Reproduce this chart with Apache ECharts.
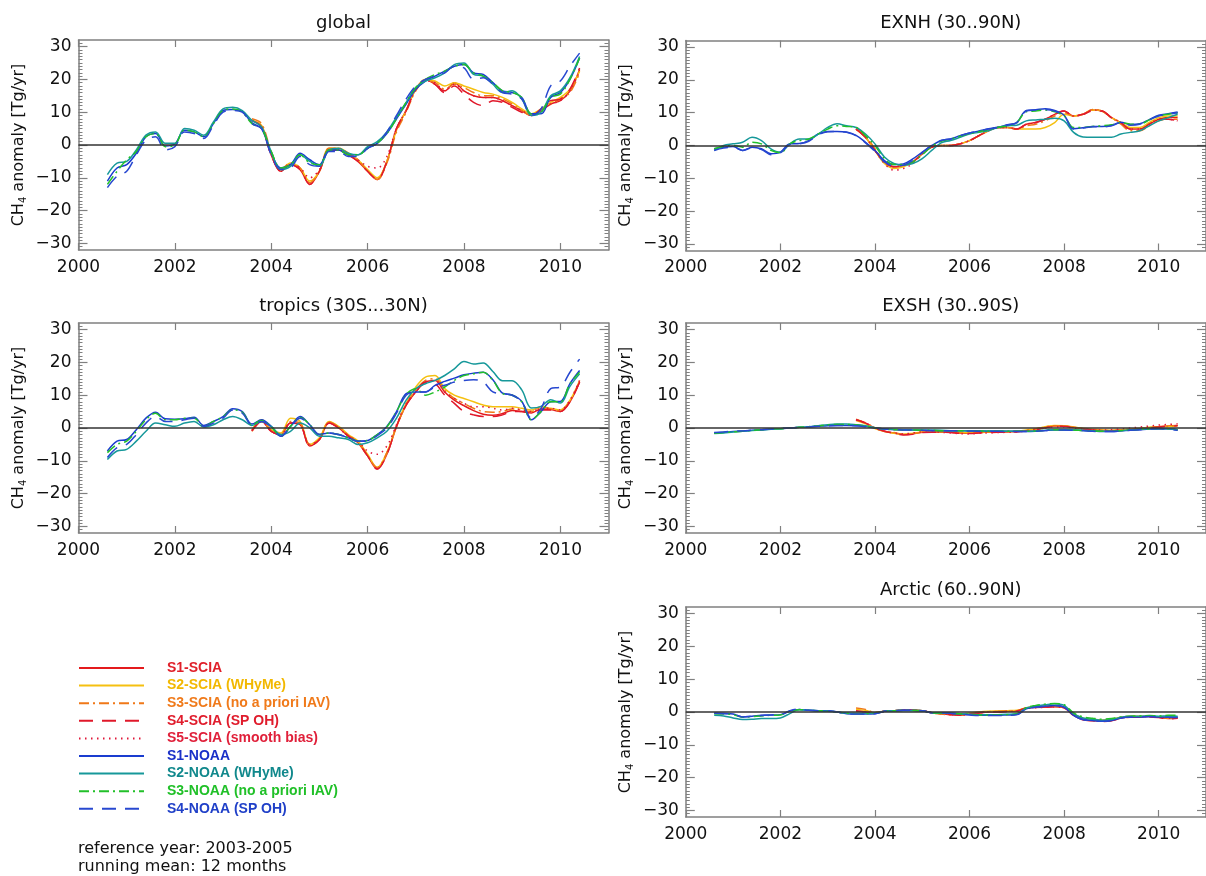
<!DOCTYPE html>
<html><head><meta charset="utf-8">
<script src="https://cdn.jsdelivr.net/npm/echarts@6/dist/echarts.min.js"></script>
<style>html,body{margin:0;padding:0;background:#fff}#c{width:1206px;height:876px}</style>
</head><body><div id="c"></div><script>
// ---------- time axes (decimal years) ----------
const tN = [2000.6,2000.8,2001.0,2001.2,2001.4,2001.6,2001.8,2002.0,2002.2,2002.4,2002.6,2002.8,2003.0,2003.2,2003.4,2003.6,2003.8,2004.0,2004.2,2004.4,2004.6,2004.8,2005.0,2005.2,2005.4,2005.6,2005.8,2006.0,2006.2,2006.4,2006.6,2006.8,2007.0,2007.2,2007.4,2007.6,2007.8,2008.0,2008.2,2008.4,2008.6,2008.8,2009.0,2009.2,2009.4,2009.6,2009.8,2010.0,2010.2,2010.4];
const tS = [2003.6,2003.8,2004.0,2004.2,2004.4,2004.6,2004.8,2005.0,2005.2,2005.4,2005.6,2005.8,2006.0,2006.2,2006.4,2006.6,2006.8,2007.0,2007.2,2007.4,2007.6,2007.8,2008.0,2008.2,2008.4,2008.6,2008.8,2009.0,2009.2,2009.4,2009.6,2009.8,2010.0,2010.2,2010.4];
const xTicks = [2000,2002,2004,2006,2008,2010];
const yTicks = [-30,-20,-10,0,10,20,30];
const panelTitles = ['global','EXNH (30..90N)','tropics (30S...30N)','EXSH (30..90S)','Arctic (60..90N)'];
const seriesNames = ['S1-SCIA','S2-SCIA (WHyMe)','S3-SCIA (no a priori IAV)','S4-SCIA (SP OH)','S5-SCIA (smooth bias)','S1-NOAA','S2-NOAA (WHyMe)','S3-NOAA (no a priori IAV)','S4-NOAA (SP OH)'];
const footer1 = 'reference year: 2003-2005';
const footer2 = 'running mean: 12 months';

// ---------- global ----------
const gS1 = [7.5,5.5,-3,-8,-6,-7.5,-12,-8,-1.5,-1.5,-3,-5,-8,-10.5,-5,5,10.5,17,20,18.5,16.5,19,16.5,15,14.5,14.5,13.5,12,10.5,9,10.5,12.5,13.5,16.5,23];
const gS2 = [7.5,6,-2.5,-7.5,-5.5,-7,-11,-8,-1,-1,-2.5,-4.5,-7.5,-10,-5,4.5,10.5,17,20,19.5,18,19,18,17,16,15.5,14.5,13,11,9.5,11,13,14.5,17,22.5];
const gS3 = [8,6.5,-2,-7.5,-5.5,-7,-11.5,-8,-1,-1,-2.5,-4.5,-8,-10.5,-5.5,4,10,16.5,19.5,19,17,18.5,17.5,16,15,15,14,12.5,10.5,9,10.5,12.5,14,16,22];
const gS4 = [7.5,5.5,-3,-8,-6,-7.5,-12,-8,-1.5,-1.5,-3,-5,-8,-10.5,-5,5,10.5,17,19.5,18.5,16,18,15.5,13,12,13.5,13,11.5,10,9,11,13.5,14,17,23.5];
const gS5 = [7.5,5.5,-3,-7.5,-6,-7,-10,-7.5,-1.5,-1.5,-3,-4.5,-6.5,-7,-3.5,5,10.5,17,19.5,19,16.5,18.5,16.5,15,14.5,14.5,13.5,12,10.5,9,10.5,12.5,13.5,16.5,22.5];
const gN1 = [-11,-7,-6,-2.5,2.5,3.5,-0.3,0.3,4.5,4,2.5,6.5,10.5,10.8,10.2,6.8,5,-2.5,-7,-6,-2.5,-4.5,-6,-1.5,-1.5,-3,-3,-1,0.5,3.5,8,12.5,17,19.5,21,22.5,24,24.5,22,21.5,19,16.5,16,14.5,9.5,9.5,14.5,16,20,26.5];
const gN2 = [-9,-5.5,-5,-1.5,3,4,0.5,0.5,5,4.5,3,7,11,11.5,10.5,7.5,5.5,-2,-7.5,-6.5,-3,-5,-6.5,-1.5,-1,-2.5,-3,-0.5,1,4,8.5,13,17.5,19.5,20.5,22,24.5,25,21.5,21,18.5,16,16.5,14,9,10,15,16.5,20.5,27];
const gN3 = [-12,-8,-4.5,-2,2.5,3.5,-0.5,0,4.5,4,2.5,6.5,10.5,11,10,6.5,5,-2,-7,-6,-3,-5.5,-6,-1.5,-1.5,-3,-3,-1,0.5,3.5,8,13,17.5,20,21.5,22.5,24,24.5,22,21,19,16.5,16,14.5,9.5,10,14.5,15.5,20,26.5];
const gN4 = [-13,-9.5,-8,-3,1.5,2.5,-1.5,-0.5,4,3.5,2,6,10,10.5,10,6.5,5,-3,-7.5,-7,-3.5,-6,-6.5,-2,-2,-3.5,-3.5,-1,0.5,4,9,14,18,20,21,22,24,23.5,20,20.5,18.5,16,15.5,14,9,11,18,19.5,24,28];

// ---------- tropics ----------
const trS1 = [-0.8,2,-1,-2,1.5,1,-5.5,-3.5,1.5,0,-2.5,-4.5,-8.5,-12.5,-8,0.5,7,11,14,14.5,11,8.5,6.8,5.3,4.2,3.9,4.4,5.3,5,4.6,5.8,5.6,5,8,14];
const trS2 = [-0.5,2.5,-0.5,-1.5,3,2,-5,-3,2,0.5,-2,-4,-8,-12,-7.5,0.5,7.5,12.5,15.5,16,12,10,9,8,7,6.5,6.5,6.5,6,5.5,6.5,6,5.5,8.5,14.5];
const trS3 = [-1,2,-0.8,-2,2,1.5,-5,-3.5,1.8,0.3,-2.2,-4.3,-8.5,-12,-7.5,0.5,7,11.5,14.5,15,11.5,9,7.5,6,5,4.8,5,5.8,5.5,5,6.2,5.8,5.2,8.2,14.2];
const trS4 = [-0.8,2,-1,-2,1.5,1,-5.5,-3.5,1.5,0,-2.5,-4.5,-8.5,-12.5,-8,0.5,7,11,14,13.5,10,7.5,5,4,3.5,3.5,4,5,5,4.5,5.5,5.5,5,8,14];
const trS5 = [-0.8,2,-1,-2,1.5,1,-5,-3.5,1.5,0,-2.5,-4,-7,-8,-5.5,1,7.5,11,14,14.5,11,9,7.5,6.5,6.5,6,5.5,6,5.5,5,6,6,5.5,8.5,14.5];
const trN1 = [-7,-4,-3.5,-0.5,3,4.8,2.8,2.7,2.8,3.3,0.8,2,3.5,5.9,5,1.2,2.5,0.5,-2.5,0.5,3.5,1,-2,-1.5,-2,-3,-4,-3.8,-2,0.5,5,10.5,11,11,13,14.2,15.2,16.2,16.7,17,14.7,10.6,10.1,8.1,2.5,5,8,8.1,13.5,17.5];
const trN2 = [-9.6,-7,-6.5,-4,-1,1.5,1,0.5,1.5,2,0.3,1,2.5,3.5,2.5,0.8,2,0.5,-2,-1,1.5,0,-2.5,-2.5,-3,-3.5,-5,-4.5,-3,-1,3,8.5,12,13.5,14.5,16,18,20.3,19.5,19.8,17.2,14.4,14.4,11.6,6.1,6.6,8.6,7.6,12.7,16.5];
const trN3 = [-7.5,-5,-4,-1,2.5,4.5,2.5,2.5,3,3,0.5,2,3.5,5.5,4.8,1,2.3,0.3,-2.5,0.5,3.2,1,-2,-1.5,-2,-3,-4,-3.8,-2,0.3,5,10.2,12,10,11,12.5,14.5,16,16.5,17,14.5,10.5,10,8,2.5,5,8,8,13.5,17];
const trN4 = [-9,-6,-5,-2,1.5,3.5,2,2,2.5,3,0.5,1.5,3,5.5,4.5,1,2,0.3,-2.5,0.3,3,0.8,-2,-1.5,-2,-3,-4,-4,-2.3,0,4.5,10,11,11,12.5,13,14,14.5,14.7,14,11,10.5,10,8,3,6,12,12.5,17,21];

// ---------- EXNH ----------
const nhS1 = [5,2.5,-1.5,-5,-6.5,-6,-5,-2.5,-0.5,0,0,0.5,1.5,3,4.5,5.5,5.5,5,6.5,7,8,9.5,10.5,9,9.5,10.8,10.5,8.5,7,5,5,6.5,8,8.5,8.5];
const nhS2 = [5,2.5,-1.5,-5.5,-7,-6.5,-5,-2.5,-0.5,0,0,0.5,1.5,3,4.5,5.5,5.5,5,5,5,5.5,7,9.5,9,9.5,10.8,10.5,8.5,7,5.5,5.5,7,8.5,9,9];
const nhS3 = [5.5,3,-1,-5,-6.5,-6,-5,-2.5,-0.5,0,0,0.5,1.5,3,4.5,5.5,5.5,5,6,6.5,7.5,9,10,9,9.5,11,10.5,8.5,6.5,4.5,4.5,6,7.5,8,8];
const nhS4 = [5,2.5,-1.5,-5,-6.5,-6,-5,-2.5,-0.5,0,0,0.5,1.5,3,4.5,5.5,5.5,5,6.5,7,8,9.5,10.5,9,9.5,10.5,10.5,8.5,7,5,5,6.5,8,8,7.5];
const nhS5 = [5,2.5,-1.5,-5.5,-7.5,-7,-5.5,-2.5,-0.5,0,0,0.5,1.5,3,4.5,5.5,5.5,5,6.5,7,8,9.5,10.5,9,9.5,10.8,10.5,8.5,7,5,5,6.5,8,8,7.5];
const nhN1 = [-1,-0.5,-0.3,-1.5,-0.5,-1,-2.5,-2,0.5,0.6,1.5,3.5,4.3,4.3,4.1,3.1,1,-1.5,-4.6,-5.8,-5.6,-4.1,-2,0,1.5,2,3,3.8,4.4,5.1,5.6,6.3,7,10.7,10.9,11.2,10.7,9.2,5.1,5.4,5.8,5.8,6.1,7.1,6.4,6.6,7.9,9.2,9.7,10.2];
const nhN2 = [-1.5,0,0.5,1,2.5,1.5,-1,-2,0.5,2,2,3.5,5.5,6.6,6,5.5,3.5,0.5,-3.5,-5.5,-6,-5.5,-4,-1.5,0.8,1.5,2.5,3.5,4,4.5,5.5,6,6.2,7.5,7.8,8,8.3,7.5,4,2.6,2.5,2.5,2.5,3.5,4,4.5,6,7.5,8.5,9.5];
const nhN3 = [-1,-0.3,0,-0.5,1,0.5,-1.5,-2.2,0.5,1.5,2,3.5,5,6,5.8,5.5,3,0,-4,-5.8,-5.8,-5,-2.8,-0.3,1.3,2,2.8,3.6,4.2,4.8,5.5,6,7,10.3,10.5,10.8,10.3,9,5.5,5.5,5.8,6,6.3,7,6.5,6.5,7.8,9,9.5,10];
const nhN4 = [-1.5,-0.8,-0.5,-1.5,-0.8,-1.2,-2.8,-2.2,0.3,0.5,1.3,3.3,4.2,4.3,4,3,0.8,-1.8,-5,-6.2,-6,-4.5,-2.2,0,1.5,2,3,3.8,4.4,5,5.5,6.2,7,10.5,10.8,11,10.5,9,5,5.3,5.7,5.7,6,7,6.2,6.5,7.8,9,9.5,10];

// ---------- EXSH ----------
const shS1 = [2.5,1.5,0,-1,-1.5,-2,-1.8,-1.3,-1.2,-1.2,-1.3,-1.5,-1.6,-1.4,-1.3,-1.2,-1.2,-1.1,-0.8,-0.4,0.2,0.6,0.6,0.2,-0.2,-0.5,-0.7,-0.8,-0.6,-0.4,-0.2,0.1,0.4,0.6,0.8];
const shS2 = [2.3,1.3,-0.2,-1.1,-1.6,-1.9,-1.6,-1.2,-1.1,-1.1,-1.2,-1.4,-1.5,-1.3,-1.2,-1.1,-1.1,-1,-0.6,-0.2,0.4,0.8,0.7,0.3,-0.1,-0.4,-0.6,-0.7,-0.5,-0.3,-0.1,0.2,0.4,0.5,0.7];
const shS3 = [2.7,1.6,0.1,-0.9,-1.4,-1.9,-1.7,-1.3,-1.2,-1.2,-1.3,-1.5,-1.6,-1.4,-1.3,-1.2,-1.1,-1,-0.7,-0.3,0.3,0.7,0.6,0.2,-0.2,-0.5,-0.7,-0.8,-0.6,-0.4,-0.2,0.1,0.3,0.5,0.8];
const shS4 = [2.5,1.5,0,-1,-1.6,-2.1,-1.9,-1.4,-1.3,-1.3,-1.4,-1.6,-1.7,-1.5,-1.4,-1.3,-1.3,-1.2,-0.9,-0.5,0.1,0.5,0.5,0.1,-0.3,-0.6,-0.8,-0.9,-0.7,-0.5,-0.3,0,0.3,0.5,0.7];
const shS5 = [2.5,1.5,0,-1,-1.5,-1.8,-1.5,-1.2,-1.2,-1.3,-1.5,-1.7,-1.8,-1.6,-1.5,-1.4,-1.3,-1.2,-0.9,-0.5,0,0.4,0.4,0,-0.3,-0.5,-0.6,-0.5,-0.3,0,0.3,0.6,0.9,1.1,1.3];
const shN1 = [-1.5,-1.3,-1.1,-0.9,-0.7,-0.5,-0.3,-0.2,0,0.2,0.3,0.5,0.7,0.8,0.8,0.7,0.5,0,-0.3,-0.5,-0.5,-0.6,-0.7,-0.7,-0.8,-0.8,-0.8,-0.9,-0.9,-1,-1,-1,-1,-1.1,-1,-0.8,-0.6,-0.6,-0.6,-0.8,-0.9,-1.1,-1.1,-0.9,-0.7,-0.5,-0.3,-0.2,-0.3,-0.6];
const shN2 = [-1.7,-1.5,-1.2,-1,-0.8,-0.6,-0.4,-0.2,0,0.2,0.4,0.7,1,1.2,1.2,1,0.7,0.1,-0.3,-0.4,-0.5,-0.6,-0.6,-0.7,-0.7,-0.8,-0.8,-0.8,-0.9,-0.9,-0.9,-1,-1,-1,-0.9,-0.7,-0.5,-0.5,-0.6,-0.7,-0.8,-1,-1,-0.8,-0.6,-0.4,-0.3,-0.2,-0.2,-0.5];
const shN3 = [-1.6,-1.4,-1.2,-1,-0.7,-0.5,-0.3,-0.2,0,0.2,0.4,0.6,0.9,1.1,1.1,0.9,0.6,0.1,-0.3,-0.5,-0.5,-0.6,-0.7,-0.7,-0.8,-0.8,-0.8,-0.8,-0.9,-0.9,-1,-1,-1,-1,-0.9,-0.7,-0.5,-0.5,-0.6,-0.8,-0.9,-1,-1,-0.8,-0.6,-0.4,-0.3,-0.2,-0.2,-0.5];
const shN4 = [-1.4,-1.2,-1,-0.9,-0.7,-0.5,-0.3,-0.1,0,0.2,0.3,0.5,0.7,0.8,0.8,0.7,0.4,0,-0.3,-0.5,-0.6,-0.6,-0.7,-0.8,-0.8,-0.8,-0.9,-0.9,-1,-1,-1,-1.1,-1.1,-1.1,-1,-0.8,-0.6,-0.6,-0.7,-0.8,-1,-1.1,-1.1,-0.9,-0.7,-0.5,-0.3,-0.2,-0.4,-0.7];

// ---------- Arctic ----------
const arS1 = [0.3,0,-0.3,0.2,0.4,0.5,0.5,0.4,-0.2,-0.5,-0.8,-1,-0.6,-0.3,0,0,0.2,0.3,1.2,1.4,1.5,1.6,1.3,-1,-2.3,-2.6,-2.8,-2.6,-1.8,-1.5,-1.5,-1.4,-1.6,-2,-1.8];
const arS2 = [0.8,0.5,-0.2,0.2,0.4,0.5,0.5,0.4,-0.2,-0.4,-0.6,-0.7,-0.3,0,0.2,0.3,0.4,0.5,1.3,1.6,1.8,1.9,1.5,-0.6,-1.9,-2.2,-2.4,-2.2,-1.6,-1.3,-1.3,-1.3,-1.5,-1.8,-1.6];
const arS3 = [1.2,0.8,-0.1,0.2,0.4,0.5,0.5,0.4,-0.3,-0.6,-0.9,-1,-0.5,-0.1,0.1,0.2,0.3,0.4,1.2,1.5,1.6,1.7,1.4,-0.8,-2.1,-2.4,-2.6,-2.4,-1.7,-1.4,-1.4,-1.3,-1.5,-1.9,-1.7];
const arS4 = [0.3,0,-0.3,0.2,0.4,0.5,0.5,0.4,-0.2,-0.5,-0.8,-1,-0.6,-0.3,0,0,0.2,0.3,1.2,1.4,1.5,1.6,1.3,-1.1,-2.4,-2.7,-2.9,-2.7,-1.9,-1.6,-1.6,-1.5,-1.7,-2.1,-1.9];
const arS5 = [0.3,0,-0.3,0.2,0.4,0.5,0.5,0.4,-0.2,-0.5,-0.8,-1,-0.6,-0.3,0,0,0.2,0.3,1.1,1.3,1.4,1.5,1.2,-1,-2.2,-2.5,-2.7,-2.5,-1.7,-1.4,-1.4,-1.3,-1.5,-1.9,-1.7];
const arN1 = [-0.3,-0.4,-0.6,-1.5,-1.3,-1,-0.9,-0.8,0.3,0.8,0.5,0.4,0.4,0,-0.5,-0.6,-0.6,-0.5,0.2,0.4,0.5,0.5,0.4,-0.2,-0.3,-0.4,-0.5,-0.8,-1,-1,-1,-0.9,-0.8,1,1.5,1.8,2,1.5,-1,-2.3,-2.6,-2.8,-2.6,-1.8,-1.5,-1.5,-1.4,-1.5,-1.5,-1.6];
const arN2 = [-1,-1.2,-1.8,-2.3,-2.2,-2,-2,-1.8,-0.5,0.8,0.5,0.3,0.2,0,-0.3,-0.4,-0.4,-0.3,0.2,0.4,0.4,0.4,0.3,-0.2,-0.3,-0.4,-0.5,-0.7,-0.8,-0.8,-0.8,-0.7,-0.5,1.2,1.8,2.2,2.5,2,-0.5,-1.8,-2.2,-2.5,-2.3,-1.6,-1.3,-1.3,-1.2,-1.3,-1.2,-1.3];
const arN3 = [-0.5,-0.6,-0.8,-1.6,-1.4,-1.2,-1,-0.9,0.2,0.7,0.5,0.4,0.3,0,-0.4,-0.5,-0.5,-0.4,0.2,0.4,0.5,0.5,0.4,-0.2,-0.3,-0.4,-0.5,-0.7,-0.9,-0.9,-0.9,-0.8,-0.6,1.3,2,2.4,2.6,2.2,-0.3,-1.5,-1.9,-2.2,-2,-1.5,-1.3,-1.2,-1.1,-1.2,-1,-1];
const arN4 = [-0.4,-0.5,-0.7,-1.5,-1.3,-1.1,-0.9,-0.8,0.4,0.9,0.5,0.4,0.4,0,-0.5,-0.6,-0.6,-0.5,0.2,0.4,0.5,0.5,0.4,-0.2,-0.3,-0.4,-0.6,-0.9,-1.1,-1.1,-1.1,-1,-0.8,1,1.5,1.8,2,1.5,-1,-2.3,-2.6,-2.8,-2.6,-1.8,-1.5,-1.5,-1.4,-1.5,-1.6,-1.7];

// ---------- styling / layout ----------
const FONT = 'DejaVu Sans';
const AX = '#808080';
const lineStyles = [
  {color:'#e41a1c', type:'solid'},
  {color:'#f5c010', type:'solid'},
  {color:'#f07818', type:[10,4,2,4]},
  {color:'#e0182a', type:[14,9]},
  {color:'#e0183a', type:[1.5,4.5]},
  {color:'#1a3ccf', type:'solid'},
  {color:'#16989a', type:'solid'},
  {color:'#22c02a', type:[10,4,2,4]},
  {color:'#2848d0', type:[14,9]}
];
const legendTextColors = ['#e0202a','#f2b800','#f07a1a','#e01c2c','#e0203a','#1a30c8','#10888c','#20c028','#2040c8'];

const panels = [
  {scia:[gS1,gS2,gS3,gS4,gS5], noaa:[gN1,gN2,gN3,gN4], left:78.5, top:40},
  {scia:[nhS1,nhS2,nhS3,nhS4,nhS5], noaa:[nhN1,nhN2,nhN3,nhN4], left:685.8, top:40.5},
  {scia:[trS1,trS2,trS3,trS4,trS5], noaa:[trN1,trN2,trN3,trN4], left:78.5, top:323},
  {scia:[shS1,shS2,shS3,shS4,shS5], noaa:[shN1,shN2,shN3,shN4], left:685.8, top:323},
  {scia:[arS1,arS2,arS3,arS4,arS5], noaa:[arN1,arN2,arN3,arN4], left:685.8, top:607}
];
const GW = 530, GH = 210;
const yMinor = [];
for (let v = -31; v <= 31; v++) yMinor.push(v);
const yFmt = v => (v < 0 ? '\u2212' + Math.abs(v) : String(v));
const xFmt = v => String(Math.round(v));

const grid = [], xAxis = [], yAxis = [], series = [], title = [];
panels.forEach((p, gi) => {
  grid.push({left:p.left, top:p.top, width:GW, height:GH, containLabel:false, show:false});
  title.push({text:panelTitles[gi], left:p.left + GW/2, top:p.top - 26, textAlign:'center', padding:0,
    textStyle:{fontFamily:FONT, fontSize:18, fontWeight:'normal', color:'#111'}});
  const xl = {show:true, onZero:false, lineStyle:{color:AX, width:1.5}};
  const xt = {show:true, inside:true, length:7, customValues:xTicks, lineStyle:{color:AX, width:1.2}};
  xAxis.push({gridIndex:gi, type:'value', min:2000, max:2011, position:'bottom', axisLine:xl, axisTick:xt,
    axisLabel:{show:true, customValues:xTicks, formatter:xFmt, margin:9, color:'#111', fontFamily:FONT, fontSize:17}, splitLine:{show:false}});
  xAxis.push({gridIndex:gi, type:'value', min:2000, max:2011, position:'top', axisLine:xl, axisTick:xt,
    axisLabel:{show:false}, splitLine:{show:false}});
  const yl = {show:true, onZero:false, lineStyle:{color:AX, width:1.5}};
  const yMaj = {show:true, inside:true, length:9, customValues:yTicks, lineStyle:{color:AX, width:1.2}};
  const yMin = {show:true, inside:true, length:4, customValues:yMinor, lineStyle:{color:AX, width:1}};
  yAxis.push({gridIndex:gi, type:'value', min:-32, max:32, position:'left', axisLine:yl, axisTick:yMaj,
    axisLabel:{show:true, customValues:yTicks, formatter:yFmt, margin:7, color:'#111', fontFamily:FONT, fontSize:17},
    splitLine:{show:false},
    name:'{a|CH}{s|4}{a| anomaly [Tg/yr]}', nameLocation:'middle', nameGap:50, nameRotate:90,
    nameTextStyle:{fontFamily:FONT, fontSize:16, color:'#111',
      rich:{a:{fontFamily:FONT, fontSize:16, color:'#111', lineHeight:20},
            s:{fontFamily:FONT, fontSize:10, color:'#111', verticalAlign:'bottom', lineHeight:12}}}});
  yAxis.push({gridIndex:gi, type:'value', min:-32, max:32, position:'left', axisLine:{show:false}, axisTick:yMin,
    axisLabel:{show:false}, splitLine:{show:false}});
  yAxis.push({gridIndex:gi, type:'value', min:-32, max:32, position:'right', axisLine:yl, axisTick:yMaj,
    axisLabel:{show:false}, splitLine:{show:false}});
  yAxis.push({gridIndex:gi, type:'value', min:-32, max:32, position:'right', axisLine:{show:false}, axisTick:yMin,
    axisLabel:{show:false}, splitLine:{show:false}});

  const all = p.scia.map((v) => ({t:tS, v})).concat(p.noaa.map((v) => ({t:tN, v})));
  all.forEach((s, k) => {
    const ls = lineStyles[k];
    const ser = {
      type:'line', name:seriesNames[k], xAxisIndex:2*gi, yAxisIndex:4*gi,
      data:s.t.map((x, i) => [x, s.v[i]]),
      symbol:'none', smooth:0.35, silent:true, animation:false,
      lineStyle:{color:ls.color, width:1.5, type:ls.type},
      itemStyle:{color:ls.color}
    };
    if (k === 0) {
      ser.markLine = {silent:true, symbol:['none','none'], label:{show:false}, animation:false,
        lineStyle:{color:'#333', type:'solid', width:1.5}, data:[{yAxis:0}]};
    }
    series.push(ser);
  });
});

const chart = echarts.init(document.getElementById('c'), null, {renderer:'canvas'});
chart.setOption({
  animation:false,
  backgroundColor:'#ffffff',
  title, grid, xAxis, yAxis, series,
  legend:{
    orient:'vertical', left:78, top:661, padding:0, itemWidth:65, itemHeight:14, itemGap:3.6,
    selectedMode:false,
    itemStyle:{opacity:0},
    textStyle:{fontFamily:'Liberation Sans', fontWeight:'bold', fontSize:14, padding:[0,0,0,18]},
    data:seriesNames.map((n, i) => ({name:n, textStyle:{color:legendTextColors[i]}}))
  },
  graphic:[
    {type:'text', left:78, top:841, style:{text:footer1, font:'16px "DejaVu Sans"', fill:'#111'}},
    {type:'text', left:78, top:859, style:{text:footer2, font:'16px "DejaVu Sans"', fill:'#111'}}
  ]
});
</script></body></html>
